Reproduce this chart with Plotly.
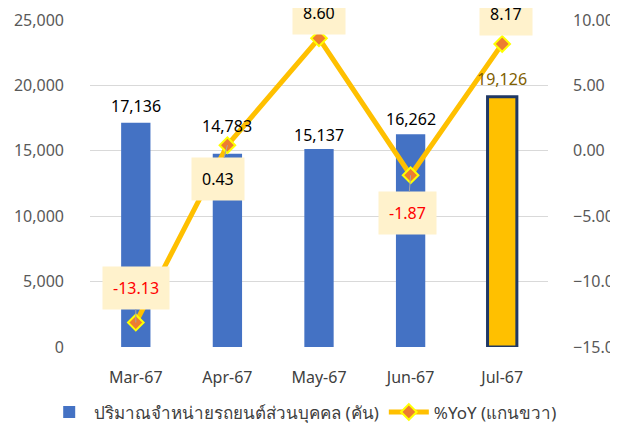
import plotly.graph_objects as go

# ข้อมูล
months = ['Mar-67', 'Apr-67', 'May-67', 'Jun-67', 'Jul-67']
sales = [17136, 14783, 15137, 16262, 19126]
yoy = [-13.13, 0.43, 8.60, -1.87, 8.17]

bar_name = 'ปริมาณจำหน่ายรถยนต์ส่วนบุคคล (คัน)'
line_name = '%YoY (แกนขวา)'

# สไตล์
font_family = 'Noto Sans, Tahoma, sans-serif'
bar_colors = ['#4472C4', '#4472C4', '#4472C4', '#4472C4', '#FFC000']
bar_line_w = [0, 0, 0, 0, 3]
bar_label_shift = [4, 15, 1, 2, 5]          # px เหนือแท่ง
yoy_label_off = [(0, -35), (-9, 34), (0, -25), (-3, 38), (4, -30)]  # px จาก marker
yoy_arrow = [True, True, False, True, False]

fig = go.Figure()

fig.add_trace(go.Bar(
    x=months, y=sales, name=bar_name,
    marker=dict(color=bar_colors, line=dict(color='#203864', width=bar_line_w)),
    width=0.32,
))

fig.add_trace(go.Scatter(
    x=months, y=yoy, name=line_name, yaxis='y2',
    mode='lines+markers',
    line=dict(color='#FFC000', width=5),
    marker=dict(symbol='diamond', size=12, color='#ED7D31',
                line=dict(color='#FFFF00', width=2)),
))

# ป้ายค่าแท่ง
for i, (m, v) in enumerate(zip(months, sales)):
    fig.add_annotation(
        x=m, y=v, text=f'{v:,}', showarrow=False,
        yanchor='bottom', yshift=bar_label_shift[i],
        font=dict(size=16, color='#7F6000' if i == len(months) - 1 else 'black'),
    )

# ป้ายค่า %YoY
for i, (m, v) in enumerate(zip(months, yoy)):
    ax, ay = yoy_label_off[i]
    fig.add_annotation(
        x=m, y=v, yref='y2', text=f'{v:.2f}',
        showarrow=yoy_arrow[i], arrowhead=0, arrowwidth=1, arrowcolor='#A6A6A6',
        ax=ax, ay=ay,
        xshift=0 if yoy_arrow[i] else ax, yshift=0 if yoy_arrow[i] else -ay,
        bgcolor='#FFF2CC', borderpad=10,
        font=dict(size=16, color='red' if v < 0 else 'black'),
    )

fig.update_layout(
    width=618, height=423,
    margin=dict(l=82, r=78, t=12, b=84, autoexpand=False),
    plot_bgcolor='white', paper_bgcolor='white',
    font=dict(family=font_family, size=16, color='#595959'),
    showlegend=True,
    legend=dict(orientation='h', x=-0.1, xanchor='left', y=-0.145, yanchor='top',
                font=dict(size=17, color='#404040'), itemwidth=40,
                bgcolor='rgba(0,0,0,0)'),
    xaxis=dict(tickfont=dict(color='#404040'), ticklabelstandoff=19, showline=False),
    yaxis=dict(range=[0, 25000], dtick=5000, tickformat=',', showgrid=True,
               gridcolor='#D9D9D9', gridwidth=1, zeroline=False, ticklabelstandoff=25),
    yaxis2=dict(range=[-15, 10], dtick=5, tickformat='.2f', overlaying='y', side='right',
                showgrid=False, zeroline=False, ticklabelstandoff=24),
)

fig.write_html('out.html')
